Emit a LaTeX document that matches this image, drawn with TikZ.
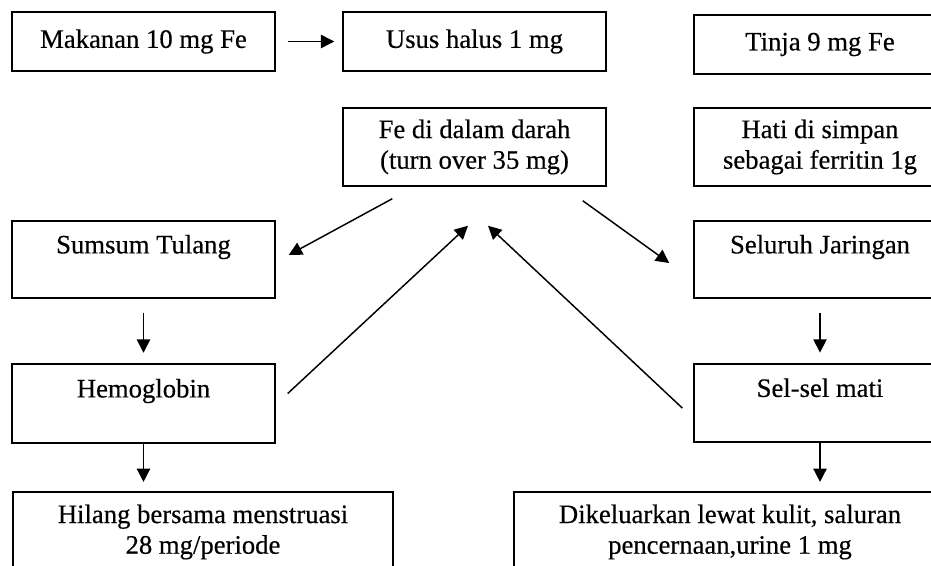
\documentclass[tikz,border=0pt]{standalone}
\usepackage{fontspec}
\setmainfont{Liberation Serif}[FakeBold=0.4]
\usetikzlibrary{arrows.meta,calc}
\tikzset{
kotak/.style={draw,line width=1.1pt,inner sep=0pt,align=center,font=\fontsize{20}{23}\selectfont},
lebar/.style={kotak,minimum width=197.25pt},
kanan/.style={kotak,minimum width=189pt},
panah/.style={-{Triangle[length=10pt,width=10pt]},line width=1.1pt}
}
\begin{document}
\begin{tikzpicture}[x=0.75pt,y=-0.75pt]
\useasboundingbox (0,0) rectangle (931,565);
\clip (0,0) rectangle (931,565);
%baris atas
\node[lebar,minimum height=44.25pt] (makanan) at (143.5,41.5) {Makanan 10 mg Fe};
\node[lebar,minimum height=44.25pt] (usus) at (474.5,41.5) {Usus halus 1 mg};
\node[kanan,minimum height=44.25pt] (tinja) at (820,44.5) {Tinja 9 mg Fe};
\node[lebar,minimum height=58.5pt] (fe) at (474.5,147) {Fe di dalam darah\\(turn over 35 mg)};
\node[kanan,minimum height=58.5pt] (hati) at (820,147) {Hati di simpan\\sebagai ferritin 1g};
%kiri dan kanan
\node[lebar,minimum height=57.75pt] (sumsum) at (143.5,259.5) {Sumsum Tulang\\~};
\node[kanan,minimum height=57.75pt] (jaringan) at (820,259.5) {Seluruh Jaringan\\~};
\node[lebar,minimum height=59pt] (hemo) at (143.5,403.5) {Hemoglobin\\~};
\node[kanan,minimum height=58.5pt] (selmati) at (820,403) {Sel-sel mati\\~};
%baris bawah
\node[kotak,minimum width=285pt,minimum height=60pt] (hilang) at (203,532) {Hilang bersama menstruasi\\28 mg/periode};
\node[kotak,minimum width=324pt,minimum height=60pt] (keluar) at (730,532) {Dikeluarkan lewat kulit, saluran\\pencernaan,urine 1 mg};
%panah
\draw[panah,shorten <=9pt,shorten >=6pt] (makanan.east) -- (usus.west);
\draw[panah,shorten <=10.5pt,shorten >=8pt] (sumsum.south) -- (hemo.north);
\draw[panah,shorten <=10.5pt,shorten >=8pt] (jaringan.south) -- (selmati.north);
\draw[panah,shorten >=7pt] (hemo.south) -- (hemo.south |- hilang.north);
\draw[panah,shorten >=7pt] (selmati.south) -- (selmati.south |- keluar.north);
\draw[panah] ($(fe.south west)+(50,12)$) -- ($(sumsum.east)+(13,-4.5)$);
\draw[panah] ($(fe.south east)+(-24,14)$) -- ($(jaringan.west)+(-24,3.5)$);
\draw[panah] ($(hemo.east)+(12,-10)$) -- ($(fe.south)+(-6.5,39)$);
\draw[panah] ($(selmati.west)+(-11,5)$) -- ($(fe.south)+(13.5,39)$);
\end{tikzpicture}
\end{document}
